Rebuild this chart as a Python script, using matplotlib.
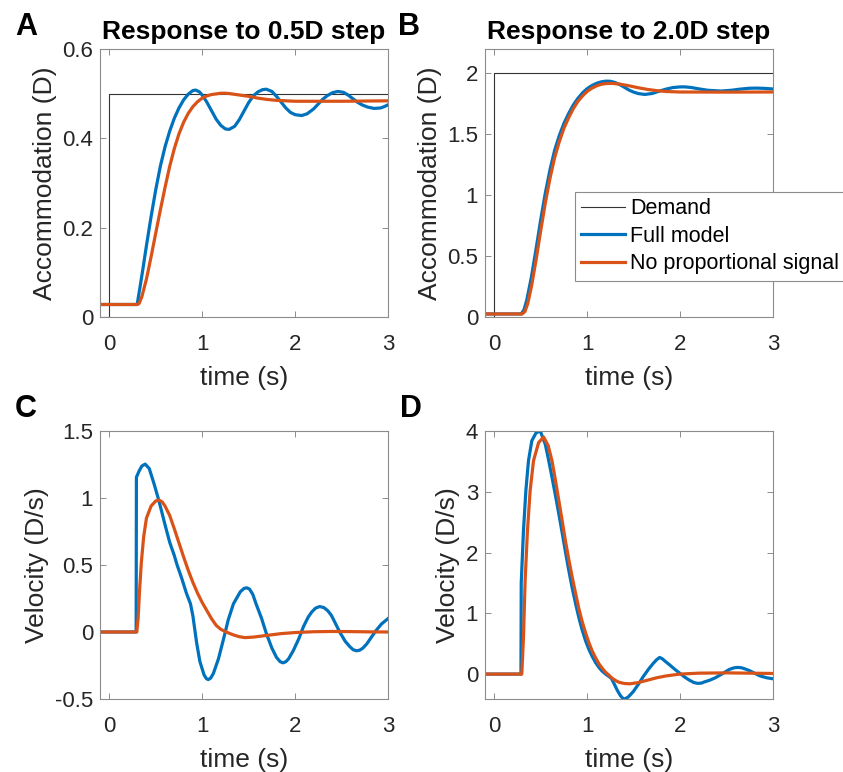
import numpy as np
import matplotlib
matplotlib.use("Agg")
import matplotlib.pyplot as plt
from matplotlib.ticker import FormatStrFormatter

plt.rcParams['font.family'] = ['Liberation Sans', 'DejaVu Sans']

BLUE = '#0072BD'
ORANGE = '#D95319'
DEMAND = '#333333'
BOX = '#8c8c8c'

# ---- panel A: accommodation, 0.5D step ----
t_a_demand = [-0.1, 0.0, 0.0, 3.0]
acc_a_demand = [0.0, 0.0, 0.5, 0.5]

t_a_full = [-0.1, 0.3, 0.33, 0.36, 0.4, 0.45, 0.5, 0.55, 0.6, 0.65, 0.7, 0.75, 0.8, 0.85, 0.9,
            0.93, 0.97, 1.0, 1.05, 1.1, 1.15, 1.2, 1.25, 1.29, 1.35, 1.4, 1.45, 1.5, 1.55, 1.6,
            1.65, 1.69, 1.75, 1.8, 1.85, 1.9, 1.95, 2.0, 2.07, 2.13, 2.2, 2.25, 2.3, 2.35, 2.4,
            2.46, 2.52, 2.57, 2.62, 2.67, 2.72, 2.78, 2.85, 2.92, 2.96, 3.0]
acc_a_full = [0.028, 0.028, 0.066, 0.105, 0.16, 0.225, 0.285, 0.338, 0.381, 0.416, 0.445, 0.468,
              0.486, 0.499, 0.507, 0.508, 0.504, 0.497, 0.481, 0.462, 0.443, 0.429, 0.421, 0.42,
              0.427, 0.442, 0.461, 0.48, 0.495, 0.504, 0.509, 0.51, 0.505, 0.494, 0.481, 0.468,
              0.458, 0.453, 0.451, 0.455, 0.466, 0.477, 0.488, 0.496, 0.502, 0.505, 0.503, 0.497,
              0.489, 0.481, 0.475, 0.47, 0.467, 0.468, 0.471, 0.475]

t_a_noprop = [-0.1, 0.3, 0.32, 0.35, 0.4, 0.45, 0.5, 0.55, 0.6, 0.65, 0.7, 0.75, 0.8, 0.85, 0.9,
              0.95, 1.0, 1.05, 1.1, 1.2, 1.25, 1.3, 1.4, 1.5, 1.6, 1.7, 1.8, 1.9, 2.0, 2.5, 3.0]
acc_a_noprop = [0.028, 0.028, 0.03, 0.045, 0.085, 0.135, 0.188, 0.24, 0.29, 0.337, 0.377, 0.41,
                0.436, 0.456, 0.471, 0.482, 0.49, 0.495, 0.498, 0.501, 0.501, 0.5, 0.497, 0.494,
                0.49, 0.487, 0.485, 0.484, 0.483, 0.483, 0.484]

# ---- panel B: accommodation, 2.0D step ----
t_b_demand = [-0.1, 0.0, 0.0, 3.0]
acc_b_demand = [0.0, 0.0, 2.0, 2.0]

t_b_full = [-0.1, 0.29, 0.32, 0.35, 0.4, 0.45, 0.5, 0.55, 0.6, 0.65, 0.7, 0.75, 0.8, 0.85, 0.9,
            0.95, 1.0, 1.05, 1.1, 1.15, 1.2, 1.25, 1.3, 1.35, 1.4, 1.45, 1.5, 1.55, 1.62, 1.7,
            1.78, 1.85, 1.92, 2.0, 2.05, 2.12, 2.2, 2.3, 2.44, 2.55, 2.65, 2.75, 2.82, 2.9, 3.0]
acc_b_full = [0.025, 0.025, 0.06, 0.14, 0.33, 0.56, 0.8, 1.02, 1.21, 1.37, 1.49, 1.59, 1.67, 1.74,
              1.795, 1.84, 1.875, 1.9, 1.918, 1.93, 1.936, 1.935, 1.925, 1.908, 1.886, 1.863,
              1.846, 1.834, 1.827, 1.835, 1.855, 1.871, 1.883, 1.889, 1.889, 1.884, 1.873, 1.861,
              1.855, 1.861, 1.871, 1.878, 1.879, 1.877, 1.872]

t_b_noprop = [-0.1, 0.3, 0.33, 0.36, 0.4, 0.45, 0.5, 0.55, 0.6, 0.65, 0.7, 0.75, 0.8, 0.85, 0.9,
              0.95, 1.0, 1.05, 1.1, 1.15, 1.2, 1.26, 1.35, 1.45, 1.55, 1.65, 1.75, 1.85, 2.0, 2.5, 3.0]
acc_b_noprop = [0.025, 0.025, 0.045, 0.11, 0.25, 0.47, 0.71, 0.94, 1.14, 1.31, 1.44, 1.55, 1.635,
                1.71, 1.77, 1.815, 1.852, 1.878, 1.897, 1.91, 1.916, 1.918, 1.912, 1.898, 1.882,
                1.868, 1.858, 1.851, 1.847, 1.846, 1.847]

# ---- panel C: velocity, 0.5D step ----
t_c_full = [-0.1, 0.289, 0.292, 0.32, 0.35, 0.386, 0.43, 0.48, 0.534, 0.6, 0.65, 0.7, 0.73, 0.78,
            0.83, 0.874, 0.9, 0.94, 0.975, 1.02, 1.045, 1.065, 1.09, 1.12, 1.175, 1.227, 1.28,
            1.336, 1.41, 1.45, 1.48, 1.51, 1.545, 1.58, 1.64, 1.69, 1.75, 1.8, 1.84, 1.87, 1.9,
            1.93, 1.98, 2.04, 2.09, 2.14, 2.18, 2.22, 2.265, 2.31, 2.35, 2.39, 2.43, 2.48, 2.54,
            2.59, 2.625, 2.66, 2.695, 2.73, 2.77, 2.82, 2.87, 2.93, 3.0]
vel_c_full = [0.0, 0.0, 1.155, 1.2, 1.238, 1.253, 1.22, 1.11, 0.98, 0.8, 0.67, 0.57, 0.5, 0.4,
              0.29, 0.21, 0.12, -0.08, -0.22, -0.32, -0.348, -0.355, -0.345, -0.31, -0.2, -0.06,
              0.09, 0.21, 0.3, 0.325, 0.33, 0.32, 0.28, 0.21, 0.1, -0.01, -0.12, -0.19, -0.222,
              -0.23, -0.222, -0.2, -0.14, -0.05, 0.04, 0.11, 0.15, 0.178, 0.19, 0.182, 0.16,
              0.125, 0.07, 0.0, -0.07, -0.11, -0.132, -0.14, -0.136, -0.12, -0.09, -0.04, 0.01,
              0.06, 0.1]

t_c_noprop = [-0.1, 0.296, 0.31, 0.325, 0.345, 0.37, 0.4, 0.45, 0.5, 0.535, 0.57, 0.6, 0.65, 0.7,
              0.75, 0.8, 0.85, 0.9, 0.95, 1.0, 1.05, 1.1, 1.15, 1.2, 1.26, 1.3, 1.35, 1.4, 1.46,
              1.55, 1.7, 1.85, 2.0, 2.2, 2.4, 2.6, 2.8, 3.0]
vel_c_noprop = [0.0, 0.0, 0.1, 0.3, 0.52, 0.71, 0.85, 0.94, 0.978, 0.985, 0.97, 0.94, 0.87, 0.77,
                0.665, 0.56, 0.46, 0.37, 0.29, 0.22, 0.16, 0.1, 0.05, 0.02, 0.0, -0.012, -0.025,
                -0.035, -0.042, -0.038, -0.025, -0.012, -0.004, 0.002, 0.004, 0.003, 0.001, 0.0]

# ---- panel D: velocity, 2.0D step ----
t_d_full = [-0.1, 0.287, 0.29, 0.314, 0.34, 0.368, 0.404, 0.45, 0.495, 0.549, 0.585, 0.621, 0.657,
            0.693, 0.73, 0.765, 0.8, 0.838, 0.875, 0.91, 0.945, 0.982, 1.02, 1.054, 1.09, 1.126,
            1.16, 1.198, 1.235, 1.26, 1.29, 1.325, 1.36, 1.394, 1.44, 1.495, 1.55, 1.602, 1.66,
            1.71, 1.75, 1.78, 1.81, 1.84, 1.89, 1.95, 2.0, 2.05, 2.1, 2.15, 2.19, 2.23, 2.26,
            2.32, 2.38, 2.43, 2.48, 2.53, 2.58, 2.62, 2.66, 2.69, 2.75, 2.8, 2.86, 2.93, 3.0]
vel_d_full = [0.0, 0.0, 1.5, 2.36, 3.02, 3.51, 3.84, 3.97, 4.0, 3.78, 3.52, 3.24, 2.95, 2.65, 2.33,
              2.02, 1.72, 1.42, 1.16, 0.93, 0.73, 0.55, 0.4, 0.29, 0.19, 0.11, 0.05, 0.0, -0.04,
              -0.07, -0.16, -0.27, -0.36, -0.415, -0.38, -0.29, -0.17, -0.044, 0.08, 0.175, 0.24,
              0.274, 0.25, 0.21, 0.148, 0.07, 0.01, -0.05, -0.1, -0.14, -0.153, -0.148, -0.13,
              -0.1, -0.06, -0.016, 0.03, 0.077, 0.103, 0.11, 0.104, 0.09, 0.055, 0.015, -0.03,
              -0.06, -0.077]

t_d_noprop = [-0.1, 0.296, 0.314, 0.332, 0.357, 0.386, 0.422, 0.477, 0.531, 0.58, 0.621, 0.657,
              0.693, 0.73, 0.765, 0.8, 0.838, 0.875, 0.91, 0.945, 0.982, 1.02, 1.054, 1.09, 1.126,
              1.16, 1.198, 1.235, 1.27, 1.31, 1.343, 1.4, 1.46, 1.55, 1.65, 1.75, 1.85, 2.0, 2.2,
              2.5, 3.0]
vel_d_noprop = [0.0, 0.0, 0.6, 1.54, 2.36, 3.02, 3.51, 3.81, 3.9, 3.76, 3.51, 3.2, 2.87, 2.53, 2.2,
                1.9, 1.6, 1.33, 1.08, 0.87, 0.68, 0.51, 0.38, 0.27, 0.17, 0.1, 0.03, -0.02, -0.07,
                -0.11, -0.135, -0.155, -0.16, -0.14, -0.1, -0.06, -0.03, 0.0, 0.015, 0.02, 0.01]

x_ticks = [0, 1, 2, 3]


def style_axes(ax, ylim, yticks, ylabel):
    ax.set_xlim(-0.1, 3)
    ax.set_ylim(*ylim)
    ax.set_xticks(x_ticks)
    ax.set_yticks(yticks)
    ax.yaxis.set_major_formatter(FormatStrFormatter('%g'))
    ax.tick_params(direction='in', length=4, width=0.7, colors=BOX, labelcolor='#262626',
                   labelsize=16, top=True, right=True)
    ax.tick_params(axis='x', pad=12.5)
    ax.tick_params(axis='y', pad=5)
    for s in ax.spines.values():
        s.set_color(BOX)
        s.set_linewidth(0.8)
    ax.set_xlabel('time (s)', fontsize=19, color='#262626', labelpad=8)
    ax.set_ylabel(ylabel, fontsize=19, color='#262626', labelpad=4)


fig = plt.figure(figsize=(8.43, 7.72), dpi=100)
W, H = 843, 772


def add_ax(left, top, right, bottom):
    return fig.add_axes([left / W, 1 - bottom / H, (right - left) / W, (bottom - top) / H])


ax_a = add_ax(100, 49, 388, 317)
ax_b = add_ax(485, 49, 773, 317)
ax_c = add_ax(100, 431, 388, 699)
ax_d = add_ax(485, 431, 773, 699)

lw = 2.3
ax_a.plot(t_a_demand, acc_a_demand, color=DEMAND, lw=0.8)
ax_a.plot(t_a_full, acc_a_full, color=BLUE, lw=lw)
ax_a.plot(t_a_noprop, acc_a_noprop, color=ORANGE, lw=lw)
style_axes(ax_a, (0, 0.6), [0, 0.2, 0.4, 0.6], 'Accommodation (D)')
ax_a.set_title('Response to 0.5D step', fontsize=19, fontweight='bold', pad=7)

h_dem, = ax_b.plot(t_b_demand, acc_b_demand, color=DEMAND, lw=0.8, label='Demand')
h_full, = ax_b.plot(t_b_full, acc_b_full, color=BLUE, lw=lw, label='Full model')
h_np, = ax_b.plot(t_b_noprop, acc_b_noprop, color=ORANGE, lw=lw, label='No proportional signal')
style_axes(ax_b, (0, 2.2), [0, 0.5, 1, 1.5, 2], 'Accommodation (D)')
ax_b.set_title('Response to 2.0D step', fontsize=19, fontweight='bold', pad=7)

ax_c.plot(t_c_full, vel_c_full, color=BLUE, lw=lw)
ax_c.plot(t_c_noprop, vel_c_noprop, color=ORANGE, lw=lw)
style_axes(ax_c, (-0.5, 1.5), [-0.5, 0, 0.5, 1, 1.5], 'Velocity (D/s)')

ax_d.plot(t_d_full, vel_d_full, color=BLUE, lw=lw)
ax_d.plot(t_d_noprop, vel_d_noprop, color=ORANGE, lw=lw)
style_axes(ax_d, (-0.41, 4), [0, 1, 2, 3, 4], 'Velocity (D/s)')

leg = fig.legend([h_dem, h_full, h_np], ['Demand', 'Full model', 'No proportional signal'],
                 loc='upper left', bbox_to_anchor=(575 / W, 1 - 192 / H), fontsize=15.5,
                 frameon=True, fancybox=False, edgecolor=BOX, framealpha=1,
                 handlelength=2.0, handletextpad=0.25, borderpad=0.3, labelspacing=0.3,
                 borderaxespad=0)
leg.get_frame().set_linewidth(0.8)

for letter, x, y in [('A', 15, 35), ('B', 398, 35), ('C', 15, 417), ('D', 400, 417)]:
    fig.text(x / W, 1 - y / H, letter, fontsize=22, fontweight='bold', va='baseline')

fig.savefig('out.png', dpi=100)
